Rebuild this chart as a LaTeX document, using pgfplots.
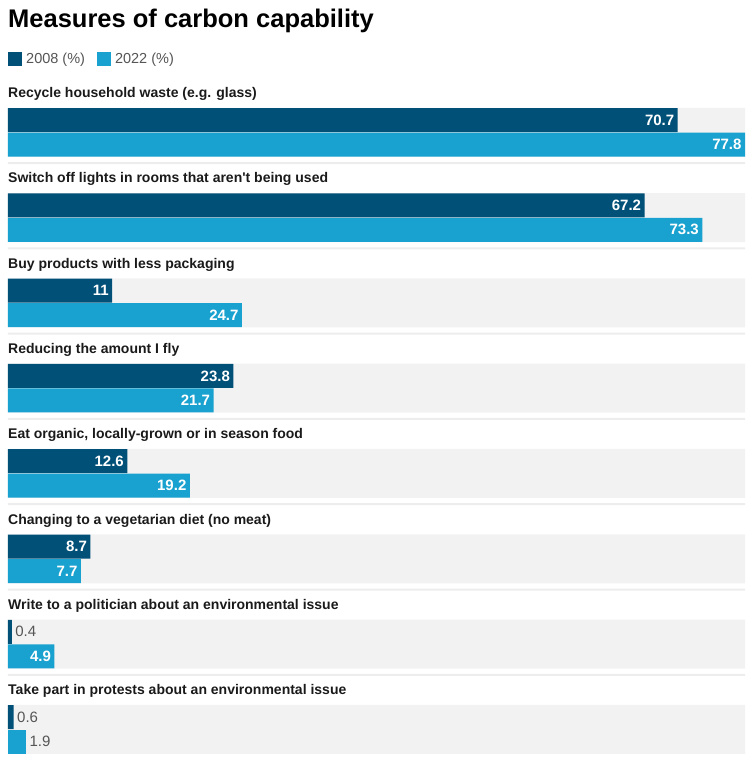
\documentclass[border=0pt]{standalone}
\usepackage{pgfplots}
\pgfplotsset{compat=1.18}
\usepackage{fontspec}
\setmainfont{Liberation Sans}
\definecolor{dark}{HTML}{005078}
\definecolor{light}{HTML}{19A1CF}
\definecolor{band}{HTML}{F2F2F2}
\definecolor{rule}{HTML}{EDEDED}
\definecolor{txt}{HTML}{1A1A1A}
\definecolor{lab}{HTML}{555555}

\begin{document}
\begin{tikzpicture}
\begin{axis}[
  scale only axis, width=754pt, height=777pt,
  xmin=-0.8445, xmax=78.75, ymin=0, ymax=777, y dir=reverse,
  axis lines=none, clip=false,
  xbar,
  /pgf/number format/assume math mode=true,
  legend style={at={(axis cs:0,59)}, anchor=west, draw=none, fill=none, inner sep=0pt,
    font=\fontsize{14.5}{16}\selectfont\color{lab}, legend columns=2,
    nodes={inner xsep=4pt},
    /tikz/every even column/.append style={column sep=8pt}},
  legend image code/.code={\fill[#1, draw=none] (0pt,-7pt) rectangle (14pt,7pt);},
  inside/.style={nodes near coords, every node near coord/.append style={anchor=east, text=white,
    font=\bfseries\fontsize{15}{17}\selectfont}},
  outside/.style={nodes near coords, every node near coord/.append style={anchor=west, text=lab,
    font=\fontsize{15}{17}\selectfont}},
]
\path (rel axis cs:0,0) rectangle (rel axis cs:1,1);

% grey bands behind each pair of bars
\addplot[forget plot, fill=band, draw=none, bar width=49, bar shift=0pt] coordinates {
  (77.8,132.25) (77.8,217.55) (77.8,302.85) (77.8,388.15)
  (77.8,473.45) (77.8,558.75) (77.8,644.05) (77.8,729.35)};
% separator rules
\addplot[forget plot, fill=rule, draw=none, bar width=2, bar shift=0pt] coordinates {
  (77.8,163) (77.8,248.3) (77.8,333.6) (77.8,418.9)
  (77.8,504.2) (77.8,589.5) (77.8,674.8)};

% 2008
\addplot[forget plot, fill=dark, draw=none, bar width=24, bar shift=0pt, inside] coordinates {
  (70.7,120) (67.2,205.3) (11,290.6) (23.8,375.9) (12.6,461.2) (8.7,546.5)};
\addplot[forget plot, fill=dark, draw=none, bar width=24, bar shift=0pt, outside] coordinates {
  (0.4,631.8) (0.6,717.1)};
% 2022
\addplot[forget plot, fill=light, draw=none, bar width=24, bar shift=0pt, inside] coordinates {
  (77.8,144.5) (73.3,229.8) (24.7,315.1) (21.7,400.4) (19.2,485.7) (7.7,571.0) (4.9,656.3)};
\addplot[forget plot, fill=light, draw=none, bar width=24, bar shift=0pt, outside] coordinates {
  (1.9,741.6)};

\addlegendimage{fill=dark}
\addlegendentry{2008 (\%)}
\addlegendimage{fill=light}
\addlegendentry{2022 (\%)}

\node[anchor=west, inner sep=0pt, text=black, font=\bfseries\fontsize{25.5}{30}\selectfont]
  at (axis cs:0,21) {Measures of carbon capability};

\begin{scope}[every node/.style={anchor=west, inner sep=0pt, text=txt,
    font=\bfseries\fontsize{14}{16}\selectfont}]
\node at (axis cs:0,94)    {Recycle household waste (e.g. glass)};
\node at (axis cs:0,179.3) {Switch off lights in rooms that aren\textquotesingle t being used};
\node at (axis cs:0,264.6) {Buy products with less packaging};
\node at (axis cs:0,349.9) {Reducing the amount I fly};
\node at (axis cs:0,435.2) {Eat organic, locally-grown or in season food};
\node at (axis cs:0,520.5) {Changing to a vegetarian diet (no meat)};
\node at (axis cs:0,605.8) {Write to a politician about an environmental issue};
\node at (axis cs:0,691.1) {Take part in protests about an environmental issue};
\end{scope}
\end{axis}
\end{tikzpicture}
\end{document}
